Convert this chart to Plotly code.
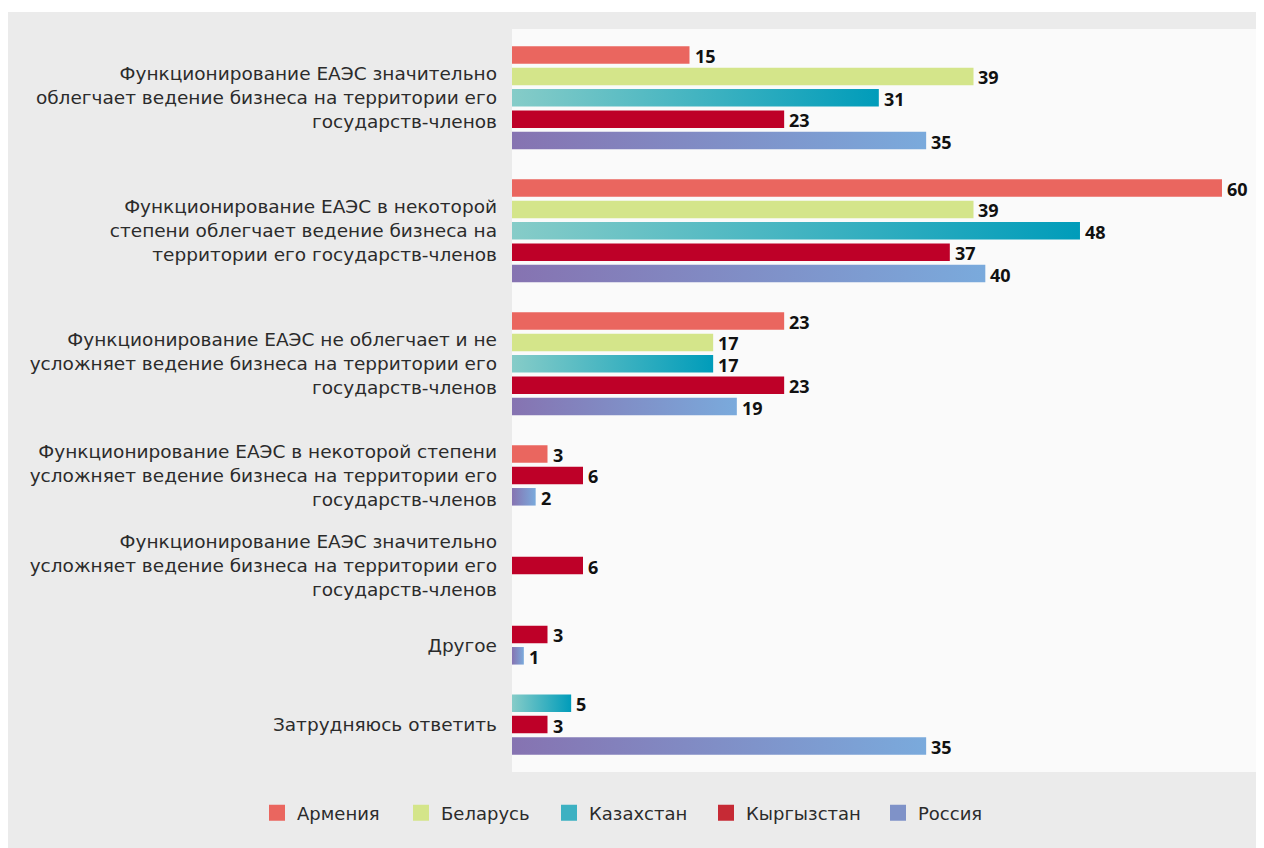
import plotly.graph_objects as go

categories = [
    "Функционирование ЕАЭС значительно<br>облегчает ведение бизнеса на территории его<br>государств-членов",
    "Функционирование ЕАЭС в некоторой<br>степени облегчает ведение бизнеса на<br>территории его государств-членов",
    "Функционирование ЕАЭС не облегчает и не<br>усложняет ведение бизнеса на территории его<br>государств-членов",
    "Функционирование ЕАЭС в некоторой степени<br>усложняет ведение бизнеса на территории его<br>государств-членов",
    "Функционирование ЕАЭС значительно<br>усложняет ведение бизнеса на территории его<br>государств-членов",
    "Другое",
    "Затрудняюсь ответить",
]
countries = ["Армения", "Беларусь", "Казахстан", "Кыргызстан", "Россия"]
armenia = [15, 60, 23, 3, None, None, None]
belarus = [39, 39, 17, None, None, None, None]
kazakhstan = [31, 48, 17, None, None, None, 5]
kyrgyzstan = [23, 37, 23, 6, 6, 3, 3]
russia = [35, 40, 19, 2, None, 1, 35]

series = [armenia, belarus, kazakhstan, kyrgyzstan, russia]
# (gradient start, gradient end, legend colour)
styles = [
    ("#EA665F", "#EA665F", "#EA665F"),
    ("#D4E58A", "#D4E58A", "#D4E58A"),
    ("#86CCC8", "#009CBA", "#3DB1C2"),
    ("#BE0028", "#BE0028", "#C62A35"),
    ("#8673B1", "#7AAADC", "#7F92C8"),
]
# page x of legend square centres (layout only)
legend_px = [277, 421, 569, 726, 898]

FONT = "DejaVu Sans"
NUM_FONT = "Open Sans"
BAR_H = 0.82
GAP = 1.215
PAD = 1.215

# slot positions of every bar
positions = {i: [] for i in range(len(series))}
centers = []
cursor = 0.0
for g, cat in enumerate(categories):
    present = [s for s in range(len(series)) if series[s][g] is not None]
    nlines = cat.count("<br>") + 1
    slots = max(len(present), nlines)
    off = (slots - len(present)) / 2
    for k, s in enumerate(present):
        positions[s].append((g, cursor + off + k + 0.5))
    centers.append(cursor + slots / 2)
    cursor += slots + GAP
last_center = cursor - GAP - 0.5
y_range = [last_center + PAD, 0.5 - PAD]

W, H = 1256, 840
L, R, T, B = 504, 2, 21, 76
pw, ph = W - L - R, H - T - B

fig = go.Figure()
annotations = []
legends = {}

for s, vals in enumerate(series):
    c0, c1, lc = styles[s]
    pts = positions[s]
    xs = [vals[g] for g, _ in pts]
    ys = [y for _, y in pts]
    if c0 == c1:
        fig.add_trace(go.Bar(
            x=xs, y=ys, orientation="h", width=BAR_H,
            marker=dict(color=c0, line=dict(width=0)),
            showlegend=False, hoverinfo="skip",
        ))
    else:
        for v, y in zip(xs, ys):
            fig.add_trace(go.Scatter(
                x=[0, v, v, 0, 0],
                y=[y - BAR_H / 2, y - BAR_H / 2, y + BAR_H / 2, y + BAR_H / 2, y - BAR_H / 2],
                fill="toself", mode="none",
                fillgradient=dict(type="horizontal", colorscale=[[0, c0], [1, c1]]),
                showlegend=False, hoverinfo="skip",
            ))
    for v, y in zip(xs, ys):
        annotations.append(dict(
            x=v, y=y, xref="x", yref="y", text=str(v), showarrow=False,
            xanchor="left", yanchor="middle", xshift=4, yshift=-1, borderpad=0,
            font=dict(family=NUM_FONT, size=18, color="#111111", weight="bold"),
        ))
    # legend entry (each in its own legend box so it can sit where the reference has it)
    lname = "legend" if s == 0 else f"legend{s + 1}"
    fig.add_trace(go.Scatter(
        x=[None], y=[None], mode="markers", name=countries[s], legend=lname,
        marker=dict(color=lc, symbol="square", size=16), showlegend=True,
    ))
    legends[lname] = dict(
        orientation="h", x=(legend_px[s] - 20 - 8 - L) / pw, xanchor="left",
        y=-41 / ph, yanchor="middle",
        font=dict(family=FONT, size=18, color="#2B2B2B"),
        bgcolor="rgba(0,0,0,0)", itemsizing="trace", borderwidth=0,
    )

shapes = [
    dict(type="rect", xref="paper", yref="paper", layer="below",
         x0=-L / pw, x1=(W - L) / pw, y0=1 + T / ph, y1=1 + (T - 4) / ph,
         fillcolor="white", line=dict(width=0)),
]

fig.update_layout(
    width=W, height=H,
    margin=dict(l=L, r=R, t=T, b=B, autoexpand=False),
    paper_bgcolor="#EBEBEB",
    plot_bgcolor="#FAFAFA",
    barmode="overlay",
    font=dict(family=FONT, size=17, color="#2B2B2B"),
    xaxis=dict(range=[0, pw / 11.833], showgrid=False, zeroline=False,
               showticklabels=False, fixedrange=True),
    yaxis=dict(range=y_range, tickvals=centers, ticktext=categories,
               showgrid=False, zeroline=False, ticks="", ticklabelstandoff=14,
               tickfont=dict(family=FONT, size=18.5, color="#2B2B2B")),
    annotations=annotations,
    shapes=shapes,
    showlegend=True,
    **legends,
)

fig.write_html("out.html")
